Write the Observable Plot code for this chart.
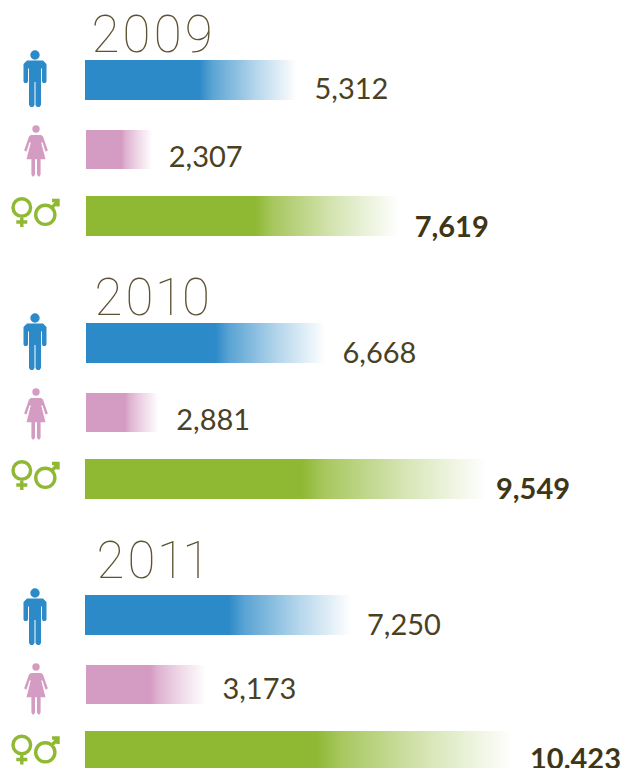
<!DOCTYPE html>
<html>
<head>
<meta charset="utf-8">
<script src="https://cdn.jsdelivr.net/npm/d3@7"></script>
<script src="https://cdn.jsdelivr.net/npm/@observablehq/plot@0.6"></script>
<style>
html,body{margin:0;padding:0;background:#fff;overflow:hidden}
svg{display:block}
.year-label{letter-spacing:2.5px;font-variant-numeric:proportional-nums}
</style>
</head>
<body>
<div id="chart"></div>
<script>
// Values printed on the chart
const years = ["2009", "2010", "2011"];
const men = [5312, 6668, 7250];
const women = [2307, 2881, 3173];
const both = [7619, 9549, 10423];
const totalLabels = ["7,619", "9,549", "10.423"];
// Bar lengths as drawn in the picture (the original is not strictly proportional)
const menDrawn = [5171, 5854, 6488];
const womenDrawn = [1640, 1800, 2950];
const bothDrawn = [7650, 9780, 10439];

// Layout
const colors = {men: "#2c8ac8", women: "#d59cc3", both: "#8fb833"};
const k = 0.041; // pixels per unit
const yearY = [51, 314, 577];
const yearDx = [6, 9, 11];
const barY = {men: [60, 323, 595], women: [130, 393, 665], both: [196, 459, 731]};
const barH = {men: [40, 40, 40], women: [39, 39, 39], both: [40, 40, 40]};
const barInset = {men: [0, 1, 0], women: [1, 1, 1], both: [1, 0, 0]};
const labelY = {men: [98, 362, 634], women: [166, 429, 698], both: [236, 498, 768]};
const labelGap = {men: [17, 17, 15.5], women: [16, 17, 16], both: [15.5, 9.5, 16.5]};
const iconY = {men: [78.5, 341.5, 616.5], women: [150.5, 413.5, 688.5], both: [212, 475, 749.5]};

const rows = [];
years.forEach((year, i) => {
  for (const [key, values, drawn] of [["men", men, menDrawn], ["women", women, womenDrawn], ["both", both, bothDrawn]]) {
    rows.push({
      year, key, value: values[i], drawn: drawn[i],
      label: key === "both" ? totalLabels[i] : d3.format(",")(values[i]),
      x1: barInset[key][i] / k,
      y1: barY[key][i], y2: barY[key][i] + barH[key][i],
      lx: drawn[i] + labelGap[key][i] / k,
      ly: labelY[key][i], iy: iconY[key][i]
    });
  }
});
const yearRows = years.map((year, i) => ({year, x: yearDx[i] / k, y: yearY[i]}));

// Icons: coordinates are relative to centre; Plot passes r*r*PI as size
const unit = size => Math.sqrt(size / Math.PI) / 30;
const manSymbol = {draw(c, size) {
  const u = unit(size);
  const P = (x, y) => [x * u, y * u];
  c.moveTo(...P(4.7, -24)); c.arc(0, -24 * u, 4.7 * u, 0, 2 * Math.PI); c.closePath();
  const pts = [[-8,-18.5],[8,-18.5],[11.5,-15],[11.5,2.5],[10.5,4],[8,4],[7,2.5],[7,-10.5],[6,-10.5],[6,26],[4.5,28],[2,28],[0.5,26],[0.5,3],[-0.5,3],[-0.5,26],[-2,28],[-4.5,28],[-6,26],[-6,-10.5],[-7,-10.5],[-7,2.5],[-8,4],[-10.5,4],[-11.5,2.5],[-11.5,-15]];
  pts.forEach((p, i) => i ? c.lineTo(...P(...p)) : c.moveTo(...P(...p)));
  c.closePath();
}};
const womanSymbol = {draw(c, size) {
  const u = unit(size);
  const P = (x, y) => [x * u, y * u];
  c.moveTo(...P(3.7, -22)); c.arc(0, -22 * u, 3.7 * u, 0, 2 * Math.PI); c.closePath();
  const pts = [[-5,-16],[5,-16],[7,-14.5],[11.8,-0.8],[10.8,0.3],[9.3,0.3],[6.6,-8.5],[5.2,-8.5],[9.5,8.2],[4.6,8.2],[4.6,23.5],[3.5,25.5],[2.2,25.5],[1,23.5],[1,8.2],[-1,8.2],[-1,23.5],[-2.2,25.5],[-3.5,25.5],[-4.6,23.5],[-4.6,8.2],[-9.5,8.2],[-5.2,-8.5],[-6.6,-8.5],[-9.3,0.3],[-10.8,0.3],[-11.8,-0.8],[-7,-14.5]];
  pts.forEach((p, i) => i ? c.lineTo(...P(...p)) : c.moveTo(...P(...p)));
  c.closePath();
}};
const bothSymbol = {draw(c, size) {
  const u = unit(size);
  const P = (x, y) => [x * u, y * u];
  c.moveTo(...P(-13.2 + 8.8, -5)); c.arc(-13.2 * u, -5 * u, 8.8 * u, 0, 2 * Math.PI); c.closePath();
  c.moveTo(...P(-13.2, 4)); c.lineTo(...P(-13.2, 14.5));
  c.moveTo(...P(-18.7, 9.5)); c.lineTo(...P(-7.7, 9.5));
  c.moveTo(...P(10.3 + 9.6, 2.3)); c.arc(10.3 * u, 2.3 * u, 9.6 * u, 0, 2 * Math.PI); c.closePath();
  c.moveTo(...P(17, -4.8)); c.lineTo(...P(22.5, -11));
  c.moveTo(...P(17, -12)); c.lineTo(...P(23, -12)); c.lineTo(...P(23, -6));
}};

const valueFont = {fontFamily: "Lato, sans-serif", fontSize: 29, textAnchor: "start", lineAnchor: "bottom"};
const barMark = key => Plot.rect(rows.filter(d => d.key === key), {
  x1: "x1", x2: "drawn", y1: "y1", y2: "y2", fill: `url(#grad-${key})`
});

const plot = Plot.plot({
  width: 621, height: 768,
  margin: 0,
  x: {domain: [-85 / k, (621 - 85) / k], range: [0, 621], axis: null},
  y: {type: "identity", axis: null},
  marks: [
    barMark("men"), barMark("women"), barMark("both"),
    Plot.text(yearRows, {
      x: "x", y: "y", text: "year", fill: "#5d5233", className: "year-label",
      fontFamily: "Roboto, sans-serif", fontWeight: 100, fontSize: 51,
      textAnchor: "start", lineAnchor: "bottom"
    }),
    Plot.text(rows.filter(d => d.key !== "both"), {
      ...valueFont, x: "lx", y: "ly", text: "label", fill: "#4a4124"
    }),
    Plot.text(rows.filter(d => d.key === "both"), {
      ...valueFont, x: "lx", y: "ly", text: "label", fill: "#3f3617", fontWeight: 700
    }),
    Plot.dot(rows.filter(d => d.key === "men"), {x: 0, y: "iy", dx: -50.5, r: 30, symbol: manSymbol, fill: colors.men}),
    Plot.dot(rows.filter(d => d.key === "women"), {x: 0, y: "iy", dx: -49.5, r: 30, symbol: womanSymbol, fill: colors.women}),
    Plot.dot(rows.filter(d => d.key === "both"), {x: 0, y: "iy", dx: -50.5, r: 30, symbol: bothSymbol, fill: "none", stroke: colors.both, strokeWidth: 3.4})
  ]
});

const defs = d3.select(plot).insert("defs", ":first-child");
for (const key of Object.keys(colors)) {
  const g = defs.append("linearGradient").attr("id", `grad-${key}`).attr("x1", 0).attr("x2", 1).attr("y1", 0).attr("y2", 0);
  [[0, 1], [0.54, 1], [0.6, 0.78], [0.8, 0.36], [1, 0]].forEach(([o, a]) =>
    g.append("stop").attr("offset", o).attr("stop-color", colors[key]).attr("stop-opacity", a));
}
document.getElementById("chart").append(plot);
</script>
</body>
</html>
